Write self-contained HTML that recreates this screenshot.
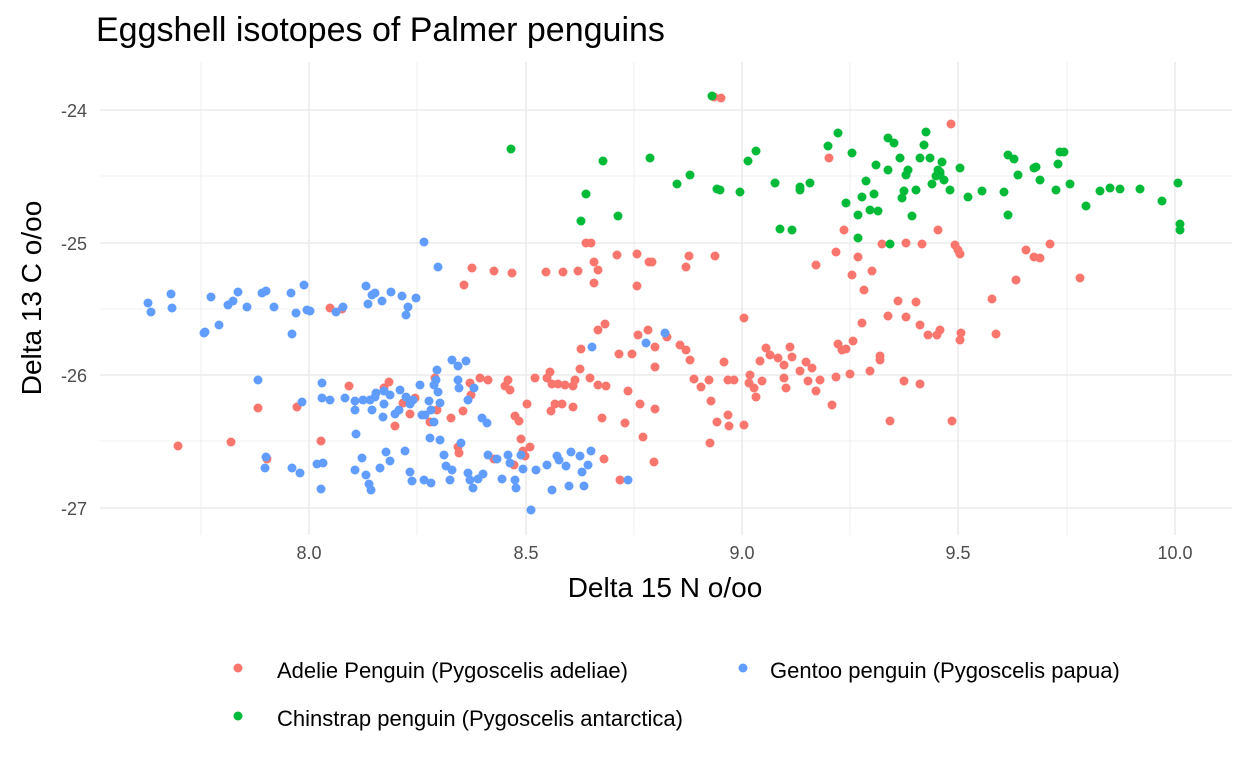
<!DOCTYPE html>
<html><head><meta charset="utf-8"><style>body{margin:0;background:#fff}svg{display:block;font-family:"Liberation Sans",sans-serif}</style></head><body>
<svg width="1248" height="768" viewBox="0 0 1248 768">
<rect width="1248" height="768" fill="#fff"/>
<g stroke="#ebebeb" stroke-width="0.8">
<line x1="201" y1="62" x2="201" y2="535"/><line x1="417" y1="62" x2="417" y2="535"/><line x1="634" y1="62" x2="634" y2="535"/><line x1="850" y1="62" x2="850" y2="535"/><line x1="1067" y1="62" x2="1067" y2="535"/>
<line x1="100" y1="176" x2="1232" y2="176"/><line x1="100" y1="309" x2="1232" y2="309"/><line x1="100" y1="441" x2="1232" y2="441"/>
</g>
<g stroke="#ebebeb" stroke-width="1.6">
<line x1="309" y1="62" x2="309" y2="535"/><line x1="526" y1="62" x2="526" y2="535"/><line x1="742" y1="62" x2="742" y2="535"/><line x1="958" y1="62" x2="958" y2="535"/><line x1="1175" y1="62" x2="1175" y2="535"/>
<line x1="100" y1="110" x2="1232" y2="110"/><line x1="100" y1="243" x2="1232" y2="243"/><line x1="100" y1="375" x2="1232" y2="375"/><line x1="100" y1="508" x2="1232" y2="508"/>
</g>
<g fill="#4d4d4d" font-size="18" text-anchor="middle">
<text x="309" y="559">8.0</text><text x="526" y="559">8.5</text><text x="742" y="559">9.0</text><text x="958" y="559">9.5</text><text x="1175" y="559">10.0</text>
</g>
<g fill="#4d4d4d" font-size="18" text-anchor="end">
<text x="87" y="117">-24</text><text x="87" y="250">-25</text><text x="87" y="382">-26</text><text x="87" y="515">-27</text>
</g>
<text x="96" y="41" font-size="34" fill="#000">Eggshell isotopes of Palmer penguins</text>
<text x="665" y="597" font-size="28" text-anchor="middle" fill="#000">Delta 15 N o/oo</text>
<text transform="translate(41,298) rotate(-90)" font-size="28" text-anchor="middle" fill="#000">Delta 13 C o/oo</text>
<g id="pts"></g>
<circle cx="238" cy="668" r="4.5" fill="#F8766D"/><circle cx="743" cy="668" r="4.5" fill="#619CFF"/><circle cx="238" cy="716" r="4.5" fill="#00BA38"/>
<g font-size="22" fill="#000"><text x="277" y="678">Adelie Penguin (Pygoscelis adeliae)</text><text x="770" y="678">Gentoo penguin (Pygoscelis papua)</text><text x="277" y="726">Chinstrap penguin (Pygoscelis antarctica)</text></g>
</svg>
<script>
var R=[[714,97],[721,98],[951,124],[829,158],[938,230],[586,243],[591,243],[563,272],[594,262],[594,283],[598,270],[464,285],[472,268],[494,271],[512,273],[546,272],[578,271],[617,255],[637,254],[649,262],[637,286],[652,262],[686,267],[689,256],[715,256],[744,318],[816,265],[836,252],[844,230],[852,275],[864,290],[872,271],[858,257],[882,244],[906,243],[922,244],[955,245],[960,254],[958,250],[992,299],[996,334],[1016,280],[1026,250],[1034,257],[1040,258],[1050,244],[1080,278],[888,316],[898,301],[906,317],[916,302],[920,325],[937,335],[952,421],[961,333],[330,308],[342,309],[297,407],[258,408],[267,459],[231,442],[178,446],[389,382],[395,426],[403,403],[415,398],[437,410],[451,418],[459,453],[463,411],[470,383],[471,395],[480,378],[488,380],[505,386],[508,380],[510,390],[515,416],[519,421],[521,439],[523,451],[525,456],[535,378],[547,378],[552,384],[555,404],[551,411],[558,384],[562,404],[565,385],[573,386],[575,380],[590,378],[598,385],[602,418],[606,386],[625,423],[628,391],[640,404],[643,437],[655,409],[667,337],[654,462],[655,347],[680,345],[686,350],[690,360],[694,379],[701,387],[709,380],[711,401],[710,443],[717,422],[724,362],[728,380],[729,426],[734,380],[728,415],[744,425],[749,383],[754,388],[756,397],[762,381],[766,348],[770,355],[778,358],[784,365],[784,378],[786,388],[790,347],[792,357],[800,371],[806,362],[808,381],[812,368],[816,391],[832,405],[836,377],[842,350],[846,349],[850,374],[853,341],[862,323],[870,371],[880,360],[890,421],[904,381],[920,384],[550,372],[581,349],[619,354],[632,354],[648,330],[638,335],[598,330],[605,324],[580,369],[655,367],[604,459],[620,480],[573,407],[527,404],[410,414],[430,422],[435,378],[349,386],[384,388],[321,441],[458,447],[494,459],[514,465],[530,447],[750,375],[760,361],[820,380],[838,344],[880,356],[928,335],[940,330],[960,340]];
var B=[[148,303],[151,312],[171,294],[172,308],[205,332],[211,297],[219,325],[228,305],[233,301],[238,292],[247,307],[262,293],[266,291],[274,307],[291,293],[292,334],[296,313],[304,285],[307,310],[310,311],[336,312],[343,307],[366,286],[368,304],[372,295],[375,293],[382,301],[391,292],[402,296],[406,315],[408,307],[416,298],[424,242],[438,267],[258,380],[302,402],[322,383],[322,398],[345,398],[355,401],[355,410],[363,400],[372,410],[375,397],[376,393],[383,417],[384,404],[390,395],[395,414],[400,390],[406,397],[410,404],[413,400],[420,385],[422,415],[425,415],[429,401],[431,410],[434,385],[437,370],[438,392],[440,403],[434,422],[452,360],[458,366],[466,361],[458,380],[459,388],[468,400],[474,388],[482,418],[487,423],[356,434],[362,458],[366,475],[369,484],[371,490],[386,452],[390,461],[405,451],[412,481],[424,480],[431,483],[440,440],[444,455],[446,466],[452,470],[461,443],[468,473],[470,480],[473,488],[478,479],[483,474],[488,455],[497,459],[502,479],[508,455],[510,463],[515,480],[516,488],[521,455],[523,469],[531,510],[536,470],[547,465],[552,490],[557,456],[559,460],[566,466],[569,486],[571,452],[580,456],[582,472],[584,486],[588,465],[591,451],[628,480],[592,347],[646,343],[665,333],[265,468],[292,468],[300,473],[323,463],[321,489],[355,470],[410,472],[430,438],[399,410],[380,468],[204,333],[266,457],[436,380],[330,400],[370,400],[317,464],[384,391],[450,480]];
var G=[[712,96],[511,149],[581,221],[586,194],[603,161],[618,216],[650,158],[677,184],[690,175],[717,189],[720,190],[740,192],[748,161],[756,151],[775,183],[780,229],[792,230],[800,187],[810,183],[838,133],[846,203],[852,153],[858,215],[858,238],[862,197],[866,181],[870,210],[874,194],[876,165],[878,211],[888,170],[890,244],[894,143],[900,158],[902,198],[904,191],[906,175],[908,170],[912,216],[916,190],[920,158],[924,145],[926,132],[930,158],[932,184],[936,176],[938,170],[940,175],[942,162],[944,180],[950,190],[960,168],[968,197],[982,191],[1004,192],[1008,155],[1008,215],[1014,159],[1018,175],[1034,168],[1036,167],[1040,180],[1056,190],[1058,164],[1064,152],[1070,184],[1086,206],[1100,191],[1120,189],[1140,189],[1162,201],[1178,183],[1180,224],[1180,230],[888,138],[940,172],[828,146],[800,190],[1110,188],[1060,152]];
var g=document.getElementById('pts'),s='';
[[R,'#F8766D'],[G,'#00BA38'],[B,'#619CFF']].forEach(function(p){p[0].forEach(function(c){s+='<circle cx="'+c[0]+'" cy="'+c[1]+'" r="4.5" fill="'+p[1]+'"/>';});});
g.innerHTML=s;
</script>
</body></html>
